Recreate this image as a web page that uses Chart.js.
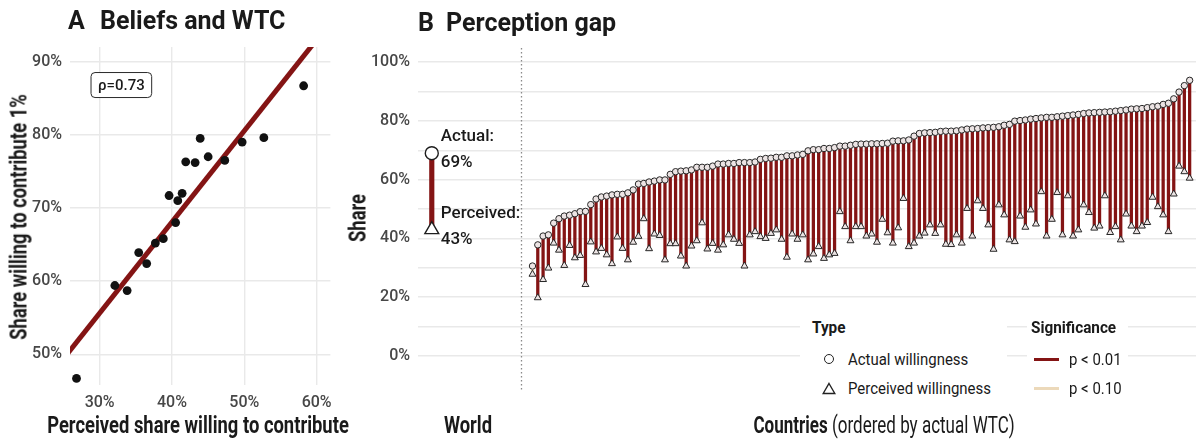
<!DOCTYPE html>
<html lang="en">
<head>
<meta charset="utf-8">
<title>Beliefs and WTC · Perception gap</title>
<script src="https://cdn.jsdelivr.net/npm/chart.js@4.4.1/dist/chart.umd.min.js"></script>
<style>
  html, body { margin: 0; padding: 0; background: #fff; }
  body { position: relative; width: 1196px; height: 439px; overflow: hidden;
         font-family: Roboto, "Noto Sans", "DejaVu Sans", sans-serif; color: #1a1a1a; }
  .wrap { position: absolute; top: 0; height: 439px; }
  .txt { position: absolute; white-space: nowrap; line-height: 1; }
  .panel-title { font-weight: 700; font-size: 25px; transform: translateY(-50%); }
  .axis-title { font-weight: 700; font-size: 23px; transform: translate(-50%, -50%) scaleX(0.8); }
  .axis-title.vert { transform: translate(-50%, -50%) rotate(-90deg) scaleX(0.8); }
  .axis-title.narrow { transform: translate(-50%, -50%) scaleX(0.74); }
  .axis-title .plain { font-weight: 400; }
  .legend { position: absolute; background: #fff; }
  .leg-head { font-weight: 700; font-size: 17px; transform: translateY(-50%) scaleX(0.9); transform-origin: 0 50%; }
  .leg-item { font-size: 17px; transform: translateY(-50%) scaleX(0.88); transform-origin: 0 50%; }
  .leg-key { position: absolute; }
</style>
</head>
<body>

<div class="wrap" style="left:0; width:340px;"><canvas id="chartA"></canvas></div>
<div class="wrap" style="left:340px; width:867px;"><canvas id="chartB"></canvas></div>

<!-- panel titles -->
<div class="txt panel-title" style="left:68px; top:20px;">A</div>
<div class="txt panel-title" style="left:100px; top:20px;">Beliefs and WTC</div>
<div class="txt panel-title" style="left:418px; top:22px;">B</div>
<div class="txt panel-title" style="left:446px; top:22px;">Perception gap</div>

<!-- axis titles -->
<div class="txt axis-title vert" style="left:19px; top:217px;">Share willing to contribute 1%</div>
<div class="txt axis-title" style="left:198px; top:425px;">Perceived share willing to contribute</div>
<div class="txt axis-title vert" style="left:358px; top:218px;">Share</div>
<div class="txt axis-title" style="left:468px; top:425px;">World</div>
<div class="txt axis-title narrow" style="left:884px; top:425px;">Countries <span class="plain">(ordered by actual WTC)</span></div>

<!-- legend: Type -->
<div class="legend" style="left:800px; top:312px; width:207px; height:90px;">
  <div class="txt leg-head" style="left:12px; top:15px;">Type</div>
  <div class="leg-key" style="left:24px; top:42px; width:8px; height:8px; border:1.4px solid #222; border-radius:50%;"></div>
  <div class="txt leg-item" style="left:48px; top:47px;">Actual willingness</div>
  <svg class="leg-key" style="left:22px; top:70px;" width="14" height="13" viewBox="0 0 14 13">
    <polygon points="7,1.5 12.8,11.5 1.2,11.5" fill="none" stroke="#222" stroke-width="1.4"/>
  </svg>
  <div class="txt leg-item" style="left:48px; top:76px;">Perceived willingness</div>
</div>
<!-- legend: Significance -->
<div class="legend" style="left:1027px; top:312px; width:101px; height:90px;">
  <div class="txt leg-head" style="left:4px; top:15px;">Significance</div>
  <div class="leg-key" style="left:7px; top:45.5px; width:25px; height:3px; background:#841414;"></div>
  <div class="txt leg-item" style="left:42px; top:47px;">p &lt; 0.01</div>
  <div class="leg-key" style="left:7px; top:74.5px; width:25px; height:3px; background:#ecd9ba;"></div>
  <div class="txt leg-item" style="left:42px; top:76px;">p &lt; 0.10</div>
</div>

<script>
// ---------- Panel A: perceived vs. actual willingness to contribute ----------
const perceivedShareA = [26.8, 32.1, 33.8, 35.4, 36.5, 37.7, 38.8, 39.6, 40.5, 40.8,
                         41.4, 41.9, 43.2, 43.9, 45.0, 47.3, 49.7, 52.7, 58.2];
const actualShareA    = [46.7, 59.4, 58.7, 63.9, 62.4, 65.2, 65.8, 71.7, 68.0, 71.0,
                         72.0, 76.3, 76.2, 79.5, 77.0, 76.5, 79.0, 79.6, 86.7];
// fitted linear trend, evaluated at the two ends of the x range
const fitLineX = [25, 62];
const fitLineY = [49.4, 95.5];
const rhoText = 'ρ=0.73';
const rhoAt = [33.0, 86.8];
const xTicksA = [30, 40, 50, 60];
const yTicksA = [50, 60, 70, 80, 90];

// ---------- Panel B: actual vs. perceived willingness, by country ----------
const worldActual = 69;
const worldPerceived = 43;
const actualWTC = [
  30.6, 37.8, 40.8, 41.2, 45.2, 46.7, 47.6, 47.9, 48.4, 49.1,
  49.2, 51.5, 53.4, 54.1, 54.4, 54.8, 55.0, 55.0, 55.5, 56.5,
  58.5, 58.7, 59.2, 59.5, 59.9, 59.9, 61.8, 62.7, 62.9, 63.0,
  63.3, 64.2, 64.2, 64.2, 64.6, 65.3, 65.3, 65.5, 65.5, 65.8,
  65.8, 65.8, 66.0, 66.9, 67.2, 67.3, 67.6, 67.6, 68.1, 68.1,
  68.4, 68.6, 69.8, 70.2, 70.2, 70.6, 70.6, 70.9, 71.4, 71.4,
  71.7, 72.0, 72.1, 72.1, 72.2, 72.2, 72.3, 72.4, 73.1, 73.2,
  73.2, 73.5, 74.8, 75.7, 75.9, 76.0, 76.1, 76.4, 76.5, 76.5,
  76.6, 76.9, 77.2, 77.3, 77.4, 77.6, 77.7, 77.8, 78.0, 78.5,
  78.8, 79.9, 80.1, 80.3, 80.6, 80.8, 81.0, 81.2, 81.2, 81.4,
  81.6, 81.8, 82.0, 82.2, 82.5, 82.7, 82.8, 82.9, 83.0, 83.1,
  83.3, 83.5, 83.7, 84.0, 84.1, 84.2, 84.5, 84.8, 85.0, 85.6,
  86.0, 87.5, 89.8, 92.0, 93.8
];
const perceivedWTC = [
  27.8, 19.8, 26.0, 29.9, 38.4, 36.0, 30.8, 37.6, 33.4, 34.2,
  24.3, 38.8, 35.4, 36.6, 34.4, 31.4, 40.5, 36.6, 32.7, 38.7,
  40.7, 46.7, 36.5, 41.5, 41.0, 32.7, 38.2, 38.2, 34.0, 30.6,
  37.4, 39.2, 45.3, 36.4, 38.3, 36.0, 37.8, 41.2, 39.7, 38.3,
  30.6, 41.2, 42.3, 40.6, 40.0, 41.7, 42.9, 39.7, 33.6, 41.5,
  39.7, 41.2, 32.7, 34.7, 37.2, 33.2, 34.4, 34.9, 49.1, 44.0,
  39.2, 44.0, 44.0, 40.8, 41.5, 38.7, 46.5, 41.9, 38.4, 43.6,
  53.6, 37.2, 38.4, 40.8, 41.8, 44.6, 41.7, 44.6, 38.0, 37.9,
  41.2, 38.4, 50.2, 40.8, 52.8, 50.2, 44.6, 36.3, 51.4, 48.0,
  39.5, 38.9, 47.6, 43.8, 49.7, 44.9, 55.9, 40.8, 46.5, 55.6,
  41.2, 54.5, 40.8, 42.9, 51.4, 48.8, 43.5, 44.2, 54.5, 42.0,
  44.0, 39.5, 48.3, 44.2, 42.3, 44.2, 45.4, 54.0, 50.8, 48.0,
  42.3, 55.1, 64.6, 62.7, 60.5
];
// ranks (1-based) of countries whose gap is significant only at the 10% level
const onlyTenPercent = [1];
const yTicksB = [0, 10, 20, 30, 40, 50, 60, 70, 80, 90, 100];
const yLabelStep = 20;

// ---------- shared styling ----------
const DARK_RED = '#841414';
const BEIGE = '#ecd9ba';
const GRID = '#e9e9e9';
const TICK_COLOR = '#474747';
const FONT = 'Roboto, "Noto Sans", sans-serif';

Chart.defaults.font.family = FONT;
Chart.defaults.animation = false;
Chart.defaults.plugins.legend.display = false;
Chart.defaults.plugins.tooltip.enabled = false;

const tickFont = { size: 16, weight: '500' };

// rounded label box with the rank correlation
const rhoBox = {
  id: 'rhoBox',
  afterDatasetsDraw(chart) {
    const { ctx, scales: { x, y } } = chart;
    const cx = x.getPixelForValue(rhoAt[0]);
    const cy = y.getPixelForValue(rhoAt[1]);
    ctx.save();
    ctx.font = '500 15px ' + FONT;
    const w = ctx.measureText(rhoText).width + 14;
    const h = 25;
    ctx.beginPath();
    ctx.roundRect(cx - w / 2, cy - h / 2, w, h, 4);
    ctx.fillStyle = '#fff';
    ctx.fill();
    ctx.lineWidth = 1;
    ctx.strokeStyle = '#2a2a2a';
    ctx.stroke();
    ctx.fillStyle = '#1a1a1a';
    ctx.textAlign = 'center';
    ctx.textBaseline = 'middle';
    ctx.fillText(rhoText, cx, cy + 1);
    ctx.restore();
  }
};

new Chart(document.getElementById('chartA'), {
  type: 'scatter',
  data: {
    datasets: [
      {
        label: 'Countries',
        data: perceivedShareA.map((v, i) => ({ x: v, y: actualShareA[i] })),
        pointRadius: 4.4,
        pointBackgroundColor: '#111',
        pointBorderColor: '#111',
        pointBorderWidth: 0
      },
      {
        type: 'line',
        label: 'Linear fit',
        data: fitLineX.map((v, i) => ({ x: v, y: fitLineY[i] })),
        borderColor: DARK_RED,
        borderWidth: 5,
        pointRadius: 0,
        clip: 0
      }
    ]
  },
  options: {
    responsive: true,
    maintainAspectRatio: false,
    events: [],
    layout: { padding: { top: 47, right: 7, left: 0, bottom: 0 } },
    scales: {
      x: {
        type: 'linear', min: 25.9, max: 61.9,
        afterBuildTicks: s => { s.ticks = xTicksA.map(v => ({ value: v })); },
        afterFit: s => { s.height = 54; },
        ticks: { callback: v => v + '%', color: TICK_COLOR, font: tickFont, padding: 8 },
        grid: { color: GRID, lineWidth: 1.4, drawTicks: false },
        border: { display: false }
      },
      y: {
        type: 'linear', min: 45.8, max: 92,
        afterBuildTicks: s => { s.ticks = yTicksA.map(v => ({ value: v })); },
        afterFit: s => { s.width = 70; },
        ticks: { callback: v => v + '%', color: TICK_COLOR, font: tickFont, padding: 8 },
        grid: { color: GRID, lineWidth: 1.4, drawTicks: false },
        border: { display: false }
      }
    }
  },
  plugins: [rhoBox]
});

// ---------- Panel B ----------
const worldPos = -18;       // x position of the world summary
const dividerPos = -1.24;   // dotted separator between world and countries
const countryPos = actualWTC.map((_, i) => i + 1);

// dotted separator plus the annotated world values
const worldNotes = {
  id: 'worldNotes',
  beforeDatasetsDraw(chart) {
    const { ctx, chartArea, scales: { x } } = chart;
    const px = Math.round(x.getPixelForValue(dividerPos)) + 0.5;
    ctx.save();
    ctx.strokeStyle = '#8a8a8a';
    ctx.lineWidth = 1.3;
    ctx.setLineDash([1.4, 2.6]);
    ctx.beginPath();
    ctx.moveTo(px, chartArea.top);
    ctx.lineTo(px, chartArea.bottom);
    ctx.stroke();
    ctx.restore();
  },
  afterDatasetsDraw(chart) {
    const { ctx, scales: { x, y } } = chart;
    const tx = x.getPixelForValue(worldPos) + 9;
    ctx.save();
    ctx.font = '500 17px ' + FONT;
    ctx.fillStyle = '#1a1a1a';
    ctx.textAlign = 'left';
    ctx.textBaseline = 'middle';
    const note = (head, value) => {
      const cy = y.getPixelForValue(value) - 3;
      ctx.fillText(head, tx, cy - 13);
      ctx.fillText(value + '%', tx, cy + 13);
    };
    note('Actual:', worldActual);
    note('Perceived:', worldPerceived);
    ctx.restore();
  }
};

const stemColors = countryPos.map(r => onlyTenPercent.includes(r) ? BEIGE : DARK_RED);

new Chart(document.getElementById('chartB'), {
  type: 'bar',
  data: {
    datasets: [
      {
        type: 'line', label: 'Actual willingness (world)', showLine: false,
        data: [{ x: worldPos, y: worldActual }],
        pointStyle: 'circle', pointRadius: 6.5,
        pointBackgroundColor: '#fff', pointBorderColor: '#1e1e1e', pointBorderWidth: 1.4
      },
      {
        type: 'line', label: 'Perceived willingness (world)', showLine: false,
        data: [{ x: worldPos, y: worldPerceived }],
        pointStyle: 'triangle', pointRadius: 8,
        pointBackgroundColor: '#fff', pointBorderColor: '#1e1e1e', pointBorderWidth: 1.4
      },
      {
        type: 'line', label: 'Actual willingness', showLine: false,
        data: countryPos.map((p, i) => ({ x: p, y: actualWTC[i] })),
        pointStyle: 'circle', pointRadius: 3.2,
        pointBackgroundColor: '#ece4e4', pointBorderColor: '#262626', pointBorderWidth: 1
      },
      {
        type: 'line', label: 'Perceived willingness', showLine: false,
        data: countryPos.map((p, i) => ({ x: p, y: perceivedWTC[i] })),
        pointStyle: 'triangle', pointRadius: 4,
        pointBackgroundColor: '#ece4e4', pointBorderColor: '#262626', pointBorderWidth: 1
      },
      {
        label: 'Gap (world)', grouped: false, barThickness: 4.5,
        data: [{ x: worldPos, y: [worldPerceived, worldActual] }],
        backgroundColor: DARK_RED, borderWidth: 0
      },
      {
        label: 'Gap', grouped: false, barThickness: 2.6,
        data: countryPos.map((p, i) => ({ x: p, y: [perceivedWTC[i], actualWTC[i]] })),
        backgroundColor: stemColors, borderWidth: 0
      }
    ]
  },
  options: {
    responsive: true,
    maintainAspectRatio: false,
    events: [],
    layout: { padding: { top: 48, right: 0, left: 0, bottom: 0 } },
    scales: {
      x: {
        type: 'linear', min: -20.6, max: 126.5, offset: false,
        afterFit: s => { s.height = 49; },
        ticks: { display: false },
        grid: { display: false, offset: false },
        border: { display: false }
      },
      y: {
        type: 'linear', min: -11.6, max: 104.8,
        afterBuildTicks: s => { s.ticks = yTicksB.map(v => ({ value: v })); },
        afterFit: s => { s.width = 78; },
        ticks: {
          callback: v => (v % yLabelStep === 0 ? v + '%' : ''),
          color: TICK_COLOR, font: tickFont, padding: 8
        },
        grid: { color: GRID, lineWidth: 1.4, drawTicks: false },
        border: { display: false }
      }
    }
  },
  plugins: [worldNotes]
});
</script>
</body>
</html>
